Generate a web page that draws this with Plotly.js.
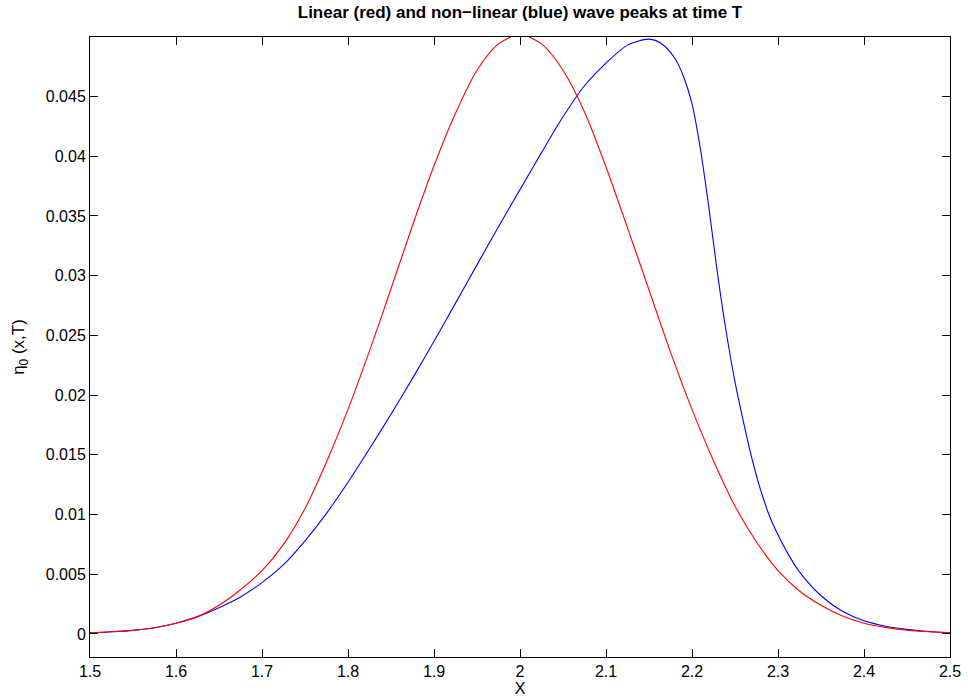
<!DOCTYPE html>
<html>
<head>
<meta charset="utf-8">
<script src="https://cdn.plot.ly/plotly-3.0.1.min.js"></script>
<style>
  html, body { margin: 0; padding: 0; background: #fff; }
  #chart { width: 968px; height: 697px; }
</style>
</head>
<body>
<div id="chart"></div>
<script>
// Linear wave profile eta_0(x,T)
const linearX = [1.500, 1.525, 1.550, 1.575, 1.600, 1.625, 1.650, 1.675, 1.700, 1.725, 1.750, 1.775, 1.800, 1.825, 1.850, 1.875, 1.900, 1.925, 1.950, 1.975, 2.000, 2.025, 2.050, 2.075, 2.100, 2.125, 2.150, 2.175, 2.200, 2.225, 2.250, 2.275, 2.300, 2.325, 2.350, 2.375, 2.400, 2.425, 2.450, 2.475, 2.500];
const linearY = [0.0001, 0.00018, 0.0003, 0.00052, 0.0009, 0.00145, 0.0024, 0.0037, 0.0053, 0.0075, 0.0105, 0.0144, 0.0188, 0.0237, 0.0289, 0.0342, 0.0392, 0.0436, 0.0472, 0.0494, 0.0502, 0.0494, 0.0472, 0.0437, 0.0391, 0.0340, 0.0288, 0.0236, 0.0188, 0.0145, 0.0107, 0.0077, 0.0053, 0.0036, 0.0024, 0.0015, 0.0009, 0.00055, 0.00032, 0.00018, 0.0001];

// Non-linear wave profile eta_0(x,T)
const nonlinearX = [1.500, 1.525, 1.550, 1.575, 1.600, 1.625, 1.650, 1.675, 1.700, 1.725, 1.750, 1.775, 1.800, 1.825, 1.850, 1.875, 1.900, 1.925, 1.950, 1.975, 2.000, 2.025, 2.050, 2.075, 2.100, 2.125, 2.150, 2.165, 2.180, 2.190, 2.200, 2.210, 2.220, 2.230, 2.240, 2.250, 2.260, 2.270, 2.280, 2.290, 2.300, 2.3125, 2.325, 2.350, 2.375, 2.400, 2.425, 2.450, 2.475, 2.500];
const nonlinearY = [0.0001, 0.00018, 0.0003, 0.00052, 0.0009, 0.00145, 0.0022, 0.0031, 0.0043, 0.0058, 0.0078, 0.0101, 0.0127, 0.0155, 0.0184, 0.0214, 0.0245, 0.0277, 0.0309, 0.0341, 0.0372, 0.0403, 0.0433, 0.0459, 0.0478, 0.0493, 0.0498, 0.0494, 0.0482, 0.0467, 0.0444, 0.0405, 0.0355, 0.0300, 0.0252, 0.0211, 0.0177, 0.0146, 0.0120, 0.0099, 0.0083, 0.0066, 0.0052, 0.0032, 0.0019, 0.0011, 0.00065, 0.00038, 0.0002, 0.0001];

// Axis ticks
const xTicks = [1.5, 1.6, 1.7, 1.8, 1.9, 2.0, 2.1, 2.2, 2.3, 2.4, 2.5];
const xTickLabels = ['1.5', '1.6', '1.7', '1.8', '1.9', '2', '2.1', '2.2', '2.3', '2.4', '2.5'];
const yTicks = [0, 0.005, 0.01, 0.015, 0.02, 0.025, 0.03, 0.035, 0.04, 0.045];
const yTickLabels = ['0', '0.005', '0.01', '0.015', '0.02', '0.025', '0.03', '0.035', '0.04', '0.045'];

const FONT = 'Liberation Sans, Arial, Helvetica, sans-serif';

const traces = [
  {
    x: nonlinearX, y: nonlinearY, type: 'scatter', mode: 'lines',
    line: { color: '#0000ff', width: 1.1, shape: 'spline', smoothing: 0.8 },
    hoverinfo: 'x+y', showlegend: false
  },
  {
    x: linearX, y: linearY, type: 'scatter', mode: 'lines',
    line: { color: '#ff0000', width: 1.1, shape: 'spline', smoothing: 0.8 },
    hoverinfo: 'x+y', showlegend: false
  }
];

const axisCommon = {
  showline: true, linecolor: '#000', linewidth: 1,
  mirror: 'ticks', ticks: 'inside', ticklen: 8, tickwidth: 1, tickcolor: '#000',
  showgrid: false, zeroline: false,
  tickfont: { family: FONT, size: 16, color: '#000' }
};

const layout = {
  width: 968, height: 697,
  margin: { l: 90, r: 18, t: 37, b: 40 },
  paper_bgcolor: '#fff', plot_bgcolor: '#fff',
  title: {
    text: '<b>Linear (red) and non\u2212linear (blue) wave peaks at time T</b>',
    font: { family: FONT, size: 17, color: '#000' },
    xref: 'paper', x: 0.5, xanchor: 'center', y: 0.982, yanchor: 'middle'
  },
  xaxis: Object.assign({}, axisCommon, {
    range: [1.5, 2.5], tickvals: xTicks, ticktext: xTickLabels,
    title: { text: 'X', font: { family: FONT, size: 16, color: '#000' }, standoff: 2 }
  }),
  yaxis: Object.assign({}, axisCommon, {
    range: [-0.00193, 0.04998], tickvals: yTicks, ticktext: yTickLabels,
    title: { text: '\u03b7<sub>0</sub> (x,T)', font: { family: FONT, size: 17, color: '#000' }, standoff: 16 }
  })
};

Plotly.newPlot('chart', traces, layout, { displayModeBar: false, staticPlot: true });
</script>
</body>
</html>
